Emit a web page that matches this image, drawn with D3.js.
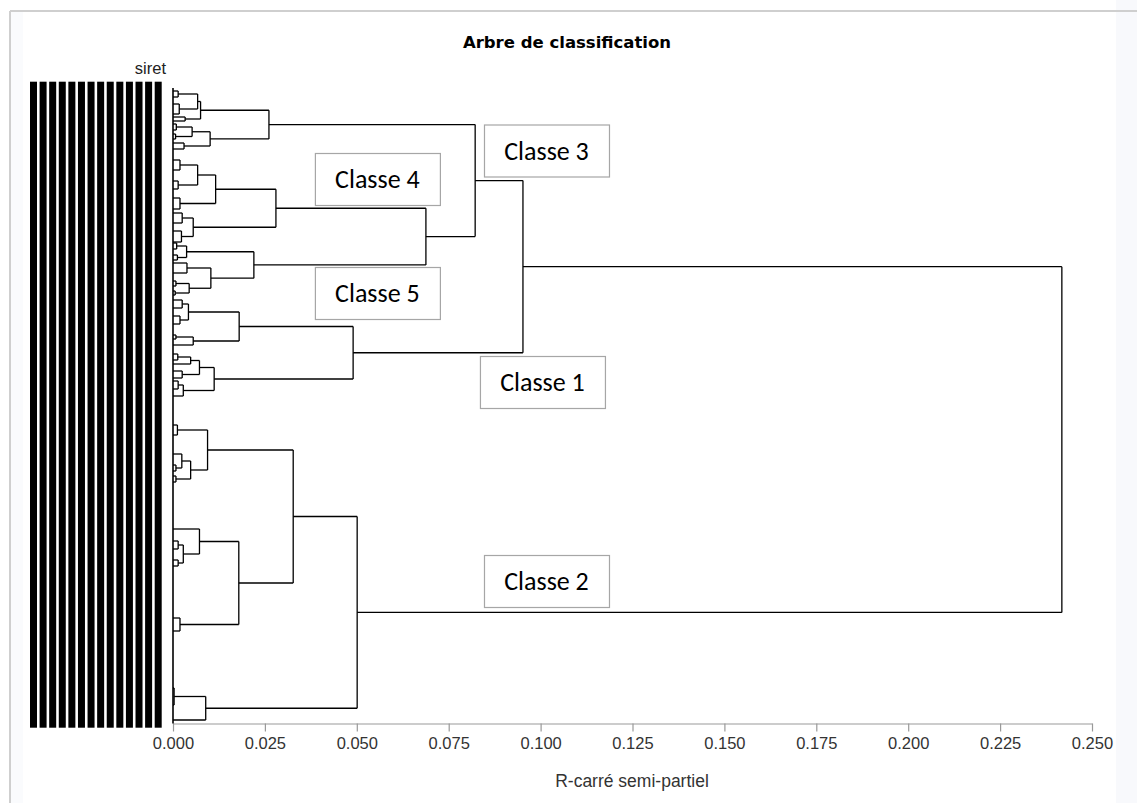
<!DOCTYPE html>
<html><head><meta charset="utf-8">
<script src="https://cdn.jsdelivr.net/npm/d3@7"></script>
<style>
html,body{margin:0;padding:0;background:#fff;}
svg{display:block;}
</style></head>
<body>
<svg id="chart" width="1137" height="803"></svg>
<script>
// ---------- DATA ----------
const title = "Arbre de classification";
const xTitle = "R-carré semi-partiel";
const leafLabel = "siret";
const xTicks = [0, 0.025, 0.05, 0.075, 0.1, 0.125, 0.15, 0.175, 0.2, 0.225, 0.25];
const nObs = 318;              // leaf axis length (observation ranks)
const labelColumns = d3.range(14); // overlapping siret labels, drawn as solid columns

// node = [height (R² semi-partiel), child, child] ; leaf = observation rank
const classe3 = [0.0261,
  [0.0075, [0.0067, [0.0014, 1.5, 4.5], [0.0017, 8, 13]], [0.0033, 14.5, 16.5]],
  [0.0101, [0.0052, [0.0009, 18, 21], [0.0007, 23, 25.5]], [0.0030, 27.5, 30.5]]
];
const classe4 = [0.0280,
  [0.0116, [0.0067, [0.0019, 36, 41], [0.0014, 46.5, 50.5]], [0.0019, 55, 60.5]],
  [0.0055, [0.0025, 62.5, 67.5], [0.0023, 71.5, 77]]
];
const classe5 = [0.0220,
  [0.0037, [0.0010, 77.5, 80.5], [0.0012, 83.5, 86]],
  [0.0103, [0.0038, 87.5, 92.5], [0.0044, [0.0008, 96.5, 99], [0.0006, 101.5, 103.5]]]
];
const classe1 = [0.0490,
  [0.0180, [0.0042, [0.0025, 106, 110], [0.0019, 114, 118]], [0.0055, [0.0008, 123.5, 125.5], 128.5]],
  [0.0112, [0.0072, [0.0048, [0.0013, 133, 136], 138], [0.0025, 141.5, 145]], [0.0028, [0.0014, 146.5, 150.5], 154]]
];
const classe2 = [0.0501,
  [0.0327,
    [0.0094, [0.0012, 168.5, 173.5], [0.0048, [0.0024, 183, [0.0008, 188.5, 191.5]], [0.0008, 194, 197]]],
    [0.0179, [0.0072, 220.5, [0.0028, [0.0014, 226.5, 230.5], [0.0014, 236, 239]]], [0.0019, 265, 271.5]]
  ],
  [0.0089, [0.0003, 300, 308.5], 316]
];
const tree = [0.2418, [0.0952, [0.0822, classe3, [0.0688, classe4, classe5]], classe1], classe2];

const classLabels = ["Classe 3", "Classe 4", "Classe 5", "Classe 1", "Classe 2"];
const classLabelX = [0.0846, 0.0386, 0.0386, 0.0835, 0.0846];   // left edge, R² units
const classLabelY = [31.25, 45.5, 102.5, 147, 246.5];          // centre, observation rank

// ---------- LAYOUT ----------
const svg = d3.select("#chart");
const x = d3.scaleLinear().domain([0, 0.25]).range([173, 1092]);
const y = d3.scaleLinear().domain([0, nObs]).range([88, 724]);
const colX = d3.scaleBand().domain(labelColumns).range([30, 161.7]).paddingInner(0.27).paddingOuter(0);
const sans = "Liberation Sans, Arial, sans-serif";

// frame
svg.append("rect").attr("x", 1116).attr("y", 0).attr("width", 21).attr("height", 803).attr("fill", "#f8f9fc");
svg.append("rect").attr("x", 11).attr("y", 12).attr("width", 12).attr("height", 791).attr("fill", "#fafbfd");
svg.append("line").attr("x1", 10).attr("x2", 1137).attr("y1", 11).attr("y2", 11).attr("stroke", "#cfcfcf").attr("stroke-width", 2);
svg.append("line").attr("x1", 10).attr("x2", 10).attr("y1", 11).attr("y2", 803).attr("stroke", "#cfcfcf").attr("stroke-width", 2);

// title
svg.append("text").attr("x", 567).attr("y", 48).attr("text-anchor", "middle")
  .attr("font-family", "DejaVu Sans, Verdana, sans-serif").attr("font-weight", "bold").attr("font-size", 16.5)
  .attr("fill", "#000").text(title);

// leaf label header
svg.append("text").attr("x", 166).attr("y", 74).attr("text-anchor", "end")
  .attr("font-family", sans).attr("font-size", 16.5)
  .attr("fill", "#222").text(leafLabel);

// label columns
svg.append("g").selectAll("rect").data(labelColumns).join("rect")
  .attr("x", d => colX(d)).attr("width", colX.bandwidth())
  .attr("y", 81.7).attr("height", 646).attr("fill", "#000");

// x axis
const axis = svg.append("g").attr("transform", "translate(0,723.5)")
  .call(d3.axisBottom(x).tickValues(xTicks).tickFormat(d3.format(".3f")).tickSize(8).tickSizeOuter(0).tickPadding(6));
axis.select(".domain").attr("stroke", "#999").attr("stroke-width", 1.2);
axis.selectAll(".tick line").attr("stroke", "#999").attr("stroke-width", 1.2);
axis.selectAll(".tick text").attr("font-family", sans).attr("font-size", 16.5).attr("fill", "#333");

svg.append("text").attr("x", 632).attr("y", 787).attr("text-anchor", "middle")
  .attr("font-family", sans).attr("font-size", 17.5)
  .attr("fill", "#333").text(xTitle);

// dendrogram
const g = svg.append("g").attr("fill", "none").attr("stroke", "#000").attr("stroke-width", 1.3);
function pos(node) {
  if (typeof node === "number") return {h: 0, r: node};
  const [h, ...kids] = node;
  const ps = kids.map(pos);
  const r0 = ps[0].r, r1 = ps[ps.length - 1].r;
  g.append("line").attr("x1", x(h)).attr("x2", x(h)).attr("y1", y(r0)).attr("y2", y(r1));
  ps.forEach(p => {
    g.append("line").attr("x1", x(p.h)).attr("x2", x(h)).attr("y1", y(p.r)).attr("y2", y(p.r));
  });
  return {h: h, r: (r0 + r1) / 2};
}
pos(tree);

// leaf axis line
svg.append("line").attr("x1", x(0)).attr("x2", x(0)).attr("y1", y(0)).attr("y2", 723.5)
  .attr("stroke", "#000").attr("stroke-width", 1.6);

// class annotation boxes
const boxW = 125, boxH = 52;
const lab = svg.append("g").selectAll("g").data(classLabels).join("g")
  .attr("transform", (d, i) => `translate(${x(classLabelX[i])},${y(classLabelY[i]) - boxH / 2})`);
lab.append("rect").attr("x", 0.5).attr("y", 0.5).attr("width", boxW).attr("height", boxH)
  .attr("fill", "#fff").attr("stroke", "#a6a6a6").attr("stroke-width", 1.2);
lab.append("text").attr("x", boxW / 2).attr("y", boxH / 2 + 9).attr("text-anchor", "middle")
  .attr("font-family", "Carlito, Lato, 'Open Sans', sans-serif").attr("font-size", 26)
  .attr("fill", "#000").text(d => d);
</script>
</body></html>
